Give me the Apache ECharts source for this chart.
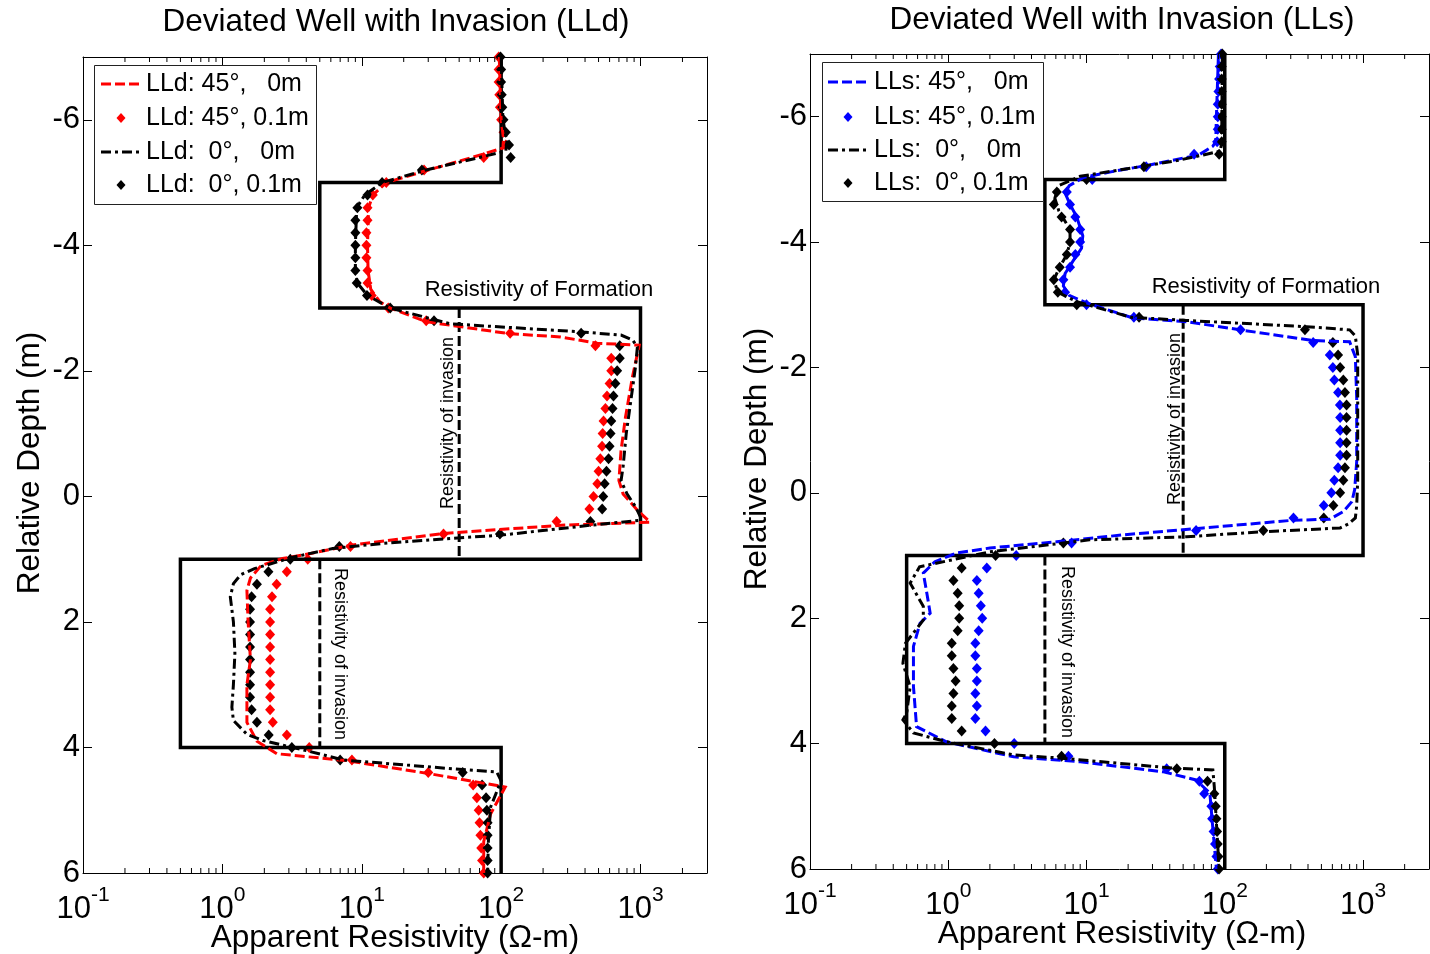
<!DOCTYPE html>
<html>
<head>
<meta charset="utf-8">
<title>Deviated Well with Invasion</title>
<script src="https://cdn.jsdelivr.net/npm/echarts@6.0.0/dist/echarts.min.js"></script>
<style>
  html, body { margin: 0; padding: 0; background: #ffffff; }
  #chart { width: 1430px; height: 954px; }
</style>
</head>
<body>
<div id="chart"></div>
<script>
// ---------------------------------------------------------------------------
// Laterolog responses (LLd / LLs) across a thin-bed sequence with invasion.
// Depth in m (negative = above bed centre), resistivity in ohm-m.
// ---------------------------------------------------------------------------

// Formation model: bed boundaries and true resistivity of each bed
const BED_TOP    = [-7, -5, -3, 1, 4];
const BED_BOTTOM = [-5, -3, 1, 4, 6];
const BED_RT     = [100, 5, 1000, 0.5, 100];

// Invaded zones: interval and resistivity of invasion
const INV_TOP    = [-3, 1];
const INV_BOTTOM = [1, 4];
const INV_RXO    = [50, 5];

// Depth stations of the 0.1 m invasion runs (diamond markers)
const DEPTH_GRID = [
  -7.0, -6.8, -6.6, -6.4, -6.2, -6.0, -5.8, -5.6, -5.4, -5.2, -5.0,
  -4.8, -4.6, -4.4, -4.2, -4.0, -3.8, -3.6, -3.4, -3.2, -3.0, -2.8,
  -2.6, -2.4, -2.2, -2.0, -1.8, -1.6, -1.4, -1.2, -1.0, -0.8, -0.6,
  -0.4, -0.2,  0.0,  0.2,  0.4,  0.6,  0.8,  1.0,  1.2,  1.4,  1.6,
   1.8,  2.0,  2.2,  2.4,  2.6,  2.8,  3.0,  3.2,  3.4,  3.6,  3.8,
   4.0,  4.2,  4.4,  4.6,  4.8,  5.0,  5.2,  5.4,  5.6,  5.8,  6.0
];

// LLd, 45 deg, 0.1 m invasion
const LLD_45_01 = [
  96, 96, 96, 97, 98, 100, 104, 108, 75, 28, 15,
  12, 11, 11, 10.8, 10.8, 10.8, 11, 11, 11.8, 15.5, 29,
  116, 475, 617, 617, 600, 575, 560, 543, 535, 530, 515,
  500, 490, 460, 430, 250, 38.6, 8.3, 4.1, 2.9, 2.45, 2.27,
  2.2, 2.2, 2.2, 2.2, 2.2, 2.2, 2.2, 2.2, 2.2, 2.3, 2.9,
  4.2, 8.5, 30, 63, 67, 69, 70, 71, 72, 73, 75
];
// LLd, 0 deg, 0.1 m invasion
const LLD_0_01 = [
  99, 100, 100, 101, 102, 104, 108, 114, 117, 27, 14,
  11, 9.3, 9.0, 9.0, 9.0, 9.0, 9.0, 9.2, 10.9, 16, 33,
  375, 710, 710, 680, 660, 640, 630, 617, 610, 600, 590,
  570, 553, 540, 531, 437, 98, 6.9, 3.07, 2.14, 1.77, 1.62,
  1.58, 1.58, 1.58, 1.58, 1.58, 1.58, 1.58, 1.58, 1.62, 1.77, 2.15,
  3.15, 7.0, 53, 73, 78, 79, 80, 80, 80, 80, 80
];
// LLs, 45 deg, 0.1 m invasion
const LLS_45_01 = [
  94, 92, 91, 90, 89, 89, 89, 88, 60, 27, 11,
  7.2, 7.6, 8.3, 9.0, 9.0, 8.3, 7.6, 6.8, 7.0, 10, 22,
  130, 436, 575, 605, 620, 660, 680, 683, 683, 683, 683,
  660, 620, 590, 520, 314, 62, 7.8, 3.1, 1.9, 1.61, 1.66,
  1.72, 1.76, 1.66, 1.57, 1.57, 1.61, 1.61, 1.57, 1.61, 1.57, 1.86,
  3.0, 7.4, 38, 65.5, 71, 80, 81, 83, 85, 87, 89
];
// LLs, 0 deg, 0.1 m invasion
const LLS_0_01 = [
  96, 95, 95, 95, 95, 95, 95, 95, 91, 26, 10,
  6.1, 5.8, 6.6, 7.6, 7.6, 7.2, 6.4, 5.8, 6.2, 8.5, 24,
  380, 605, 660, 683, 720, 740, 760, 760, 760, 760, 760,
  740, 720, 683, 610, 520, 190, 6.8, 2.2, 1.25, 1.09, 1.17,
  1.2, 1.2, 1.17, 1.06, 1.06, 1.09, 1.13, 1.09, 1.06, 1.06, 1.25,
  2.16, 6.6, 45, 75, 84, 86, 87, 88, 89, 90, 91
];

// Continuous logs without invasion: [depth m, apparent resistivity ohm-m]
const LLD_45_0 = [
  [-7.0, 97], [-6.0, 100], [-5.7, 104], [-5.55, 103], [-5.4, 62], [-5.2, 30],
  [-5.0, 15], [-4.8, 12], [-4.6, 11.2], [-4.0, 11], [-3.6, 11.1], [-3.3, 11.6],
  [-3.1, 13.5], [-3.0, 16], [-2.78, 29.4], [-2.59, 116], [-2.54, 266], [-2.44, 490],
  [-2.41, 980], [-1.9, 875], [-1.26, 780], [-0.73, 725], [-0.25, 700], [-0.04, 750],
  [0.22, 950], [0.41, 1170], [0.46, 270], [0.59, 38.6], [0.78, 8.3], [0.91, 4.3],
  [0.99, 2.7], [1.1, 1.9], [1.3, 1.59], [1.5, 1.5], [2.0, 1.53], [2.6, 1.59],
  [3.0, 1.5], [3.6, 1.5], [3.9, 1.77], [4.1, 2.46], [4.21, 7.8], [4.42, 31],
  [4.63, 107], [5.06, 84], [5.5, 75], [6.0, 75]
];
const LLD_0_0 = [
  [-7.0, 100], [-6.0, 103], [-5.65, 110], [-5.5, 108], [-5.4, 70], [-5.2, 29],
  [-5.0, 14], [-4.8, 10.5], [-4.6, 9.2], [-4.0, 9.0], [-3.6, 9.0], [-3.4, 9.3],
  [-3.2, 11], [-3.0, 16], [-2.75, 43], [-2.62, 375], [-2.57, 725], [-2.49, 880],
  [-2.38, 950], [-2.06, 920], [-1.53, 853], [-1.0, 790], [-0.47, 750], [-0.25, 725],
  [-0.04, 800], [0.17, 925], [0.33, 1000], [0.38, 1000], [0.46, 437], [0.62, 98],
  [0.67, 43], [0.75, 14], [0.83, 6.2], [0.97, 3.2], [1.15, 1.7], [1.25, 1.35],
  [1.39, 1.2], [1.6, 1.14], [2.0, 1.2], [2.5, 1.23], [3.0, 1.2], [3.36, 1.17],
  [3.57, 1.2], [3.79, 1.5], [3.89, 1.96], [4.05, 4.0], [4.2, 7.4], [4.34, 45],
  [4.39, 93], [4.53, 100], [4.95, 84], [5.5, 81], [6.0, 80]
];
const LLS_45_0 = [
  [-7.0, 90], [-6.0, 87], [-5.6, 86], [-5.53, 82], [-5.39, 65], [-5.34, 50],
  [-5.23, 28.6], [-5.12, 15], [-5.03, 9.5], [-4.9, 7.5], [-4.78, 7.0], [-4.6, 7.6],
  [-4.4, 8.5], [-4.1, 9.4], [-3.9, 9.2], [-3.7, 8.0], [-3.5, 7.0], [-3.3, 6.8],
  [-3.15, 7.5], [-3.03, 10], [-2.79, 21.6], [-2.73, 53], [-2.6, 129], [-2.43, 436],
  [-2.41, 800], [-2.17, 880], [-1.5, 900], [-0.5, 900], [-0.05, 870], [0.14, 830],
  [0.3, 720], [0.42, 575], [0.44, 300], [0.56, 70], [0.67, 18.5], [0.78, 6.1],
  [0.88, 2.0], [0.96, 1.15], [1.1, 0.8], [1.28, 0.66], [1.6, 0.7], [1.92, 0.74],
  [2.08, 0.625], [2.45, 0.56], [3.09, 0.56], [3.73, 0.59], [3.97, 0.97], [4.21, 2.97],
  [4.29, 9], [4.45, 36], [4.58, 62], [4.79, 78], [5.22, 81], [6.0, 87]
];
const LLS_0_0 = [
  [-7.0, 96], [-5.6, 95], [-5.45, 93], [-5.39, 70], [-5.3, 45], [-5.2, 24],
  [-5.05, 9], [-4.9, 6.3], [-4.7, 5.9], [-4.5, 6.3], [-4.2, 7.6], [-4.0, 7.6],
  [-3.8, 7.2], [-3.6, 6.4], [-3.4, 5.8], [-3.2, 6.2], [-3.05, 8.5], [-2.8, 21],
  [-2.75, 53], [-2.65, 390], [-2.6, 800], [-2.5, 880], [-2.2, 915], [-0.2, 915],
  [0.2, 900], [0.4, 880], [0.5, 780], [0.56, 683], [0.62, 190], [0.7, 53],
  [0.75, 10.5], [0.94, 2.0], [1.18, 0.62], [1.44, 0.53], [1.81, 0.66], [2.03, 0.66],
  [2.4, 0.49], [2.72, 0.47], [3.09, 0.53], [3.52, 0.5], [3.62, 0.47], [3.83, 0.56],
  [3.97, 0.97], [4.18, 2.97], [4.23, 6.4], [4.39, 42], [4.42, 82], [4.69, 84], [6.0, 91]
];

// Axis ranges and ticks
const RES_MIN = 0.1;
const RES_MAX = 3000;
const DEPTH_MIN = -7;
const DEPTH_MAX = 6;
const DEPTH_TICKS = [-6, -4, -2, 0, 2, 4, 6];

// Text
const TITLES = ['Deviated Well with Invasion (LLd)', 'Deviated Well with Invasion (LLs)'];
const X_NAME = 'Apparent Resistivity (\u03A9-m)';
const Y_NAME = 'Relative Depth (m)';
const LEGEND_TEXT = [
  ['LLd: 45\u00B0,   0m', 'LLd: 45\u00B0, 0.1m', 'LLd:  0\u00B0,   0m', 'LLd:  0\u00B0, 0.1m'],
  ['LLs: 45\u00B0,   0m', 'LLs: 45\u00B0, 0.1m', 'LLs:  0\u00B0,   0m', 'LLs:  0\u00B0, 0.1m']
];
const FORMATION_LABEL = 'Resistivity of Formation';
const INVASION_LABEL = 'Resistivity of invasion';

// ---------------------------------------------------------------------------
const FONT = "'Liberation Sans', Arial, Helvetica, sans-serif";
const RED = '#ff0000';
const BLUE = '#0000ff';
const BLACK = '#000000';
const DASH = [10, 4];
const DASH_DOT = [10, 4, 3, 4];

const GRIDS = [
  { left: 83, top: 57, width: 624, height: 816 },
  { left: 810, top: 54, width: 619, height: 815 }
];

function powLabel(v) {
  const e = Math.log10(v);
  const r = Math.round(e);
  if (Math.abs(e - r) > 1e-6) return '';
  return '{b|10}{s|' + r + '}';
}

function xAxes(gi) {
  const base = {
    type: 'log', logBase: 10, gridIndex: gi, min: RES_MIN, max: RES_MAX,
    splitLine: { show: false },
    axisLine: { show: true, onZero: false, lineStyle: { color: BLACK, width: 1 } },
    axisTick: { show: true, inside: true, length: 9, lineStyle: { color: BLACK, width: 1 } }
  };
  return [
    Object.assign({}, base, {
      position: 'bottom',
      axisLabel: {
        show: true, margin: 12, formatter: powLabel, hideOverlap: false,
        rich: {
          b: { fontSize: 31, fontFamily: FONT, color: BLACK, lineHeight: 40, verticalAlign: 'bottom' },
          s: { fontSize: 21, fontFamily: FONT, color: BLACK, lineHeight: 15, verticalAlign: 'top' }
        }
      }
    }),
    Object.assign({}, base, { position: 'top', axisLabel: { show: false } })
  ];
}

function yAxes(gi) {
  const base = {
    type: 'value', gridIndex: gi, min: DEPTH_MIN, max: DEPTH_MAX, inverse: true,
    splitLine: { show: false },
    axisLine: { show: true, onZero: false, lineStyle: { color: BLACK, width: 1 } },
    axisTick: { show: true, inside: true, length: 9, customValues: DEPTH_TICKS,
                lineStyle: { color: BLACK, width: 1 } }
  };
  return [
    Object.assign({}, base, {
      position: 'left',
      axisLabel: { show: true, customValues: DEPTH_TICKS, margin: 3, fontSize: 31,
                   fontFamily: FONT, color: BLACK }
    }),
    Object.assign({}, base, { position: 'right', axisLabel: { show: false } })
  ];
}

function stepPath(tops, bottoms, vals) {
  const out = [];
  tops.forEach(function (t, i) {
    out.push([vals[i], t]);
    out.push([vals[i], bottoms[i]]);
  });
  return out;
}

function lineSeries(name, pts, gi, color, dash, width) {
  return {
    type: 'line', name: name, xAxisIndex: gi * 2, yAxisIndex: gi * 2,
    data: pts.map(function (p) { return [p[1], p[0]]; }),
    symbol: 'none', showSymbol: false, silent: true, animation: false,
    lineStyle: { color: color, width: width, type: dash, cap: 'butt', join: 'miter', opacity: 1 }
  };
}

function modelSeries(name, data, gi, dash, width) {
  return {
    type: 'line', name: name, xAxisIndex: gi * 2, yAxisIndex: gi * 2, data: data,
    symbol: 'none', showSymbol: false, silent: true, animation: false,
    lineStyle: { color: BLACK, width: width, type: dash, cap: 'butt', join: 'miter', opacity: 1 }
  };
}

function markerSeries(name, values, gi, color) {
  return {
    type: 'scatter', name: name, xAxisIndex: gi * 2, yAxisIndex: gi * 2,
    data: DEPTH_GRID.map(function (d, i) { return [values[i], d]; }),
    symbol: 'diamond', symbolSize: [10, 11], silent: true, animation: false,
    itemStyle: { color: color, borderWidth: 0, opacity: 1 }
  };
}

function panelSeries(gi, tool, color, line45, mark45, line0, mark0) {
  const invasion = INV_TOP.map(function (t, i) {
    return modelSeries('Rxo ' + i, [[INV_RXO[i], t], [INV_RXO[i], INV_BOTTOM[i]]], gi, DASH, 3);
  });
  return [modelSeries('Rt', stepPath(BED_TOP, BED_BOTTOM, BED_RT), gi, 'solid', 3.5)]
    .concat(invasion)
    .concat([
      lineSeries(tool + ' 45 0m', line45, gi, color, DASH, 3),
      markerSeries(tool + ' 45 0.1m', mark45, gi, color),
      lineSeries(tool + ' 0 0m', line0, gi, BLACK, DASH_DOT, 3),
      markerSeries(tool + ' 0 0.1m', mark0, gi, BLACK)
    ]);
}

const chart = echarts.init(document.getElementById('chart'), null, { renderer: 'canvas' });

chart.setOption({
  animation: false,
  backgroundColor: '#ffffff',
  grid: GRIDS.map(function (g) {
    return Object.assign({ containLabel: false, outerBoundsMode: 'none', show: false }, g);
  }),
  xAxis: xAxes(0).concat(xAxes(1)),
  yAxis: yAxes(0).concat(yAxes(1)),
  series: panelSeries(0, 'LLd', RED, LLD_45_0, LLD_45_01, LLD_0_0, LLD_0_01)
    .concat(panelSeries(1, 'LLs', BLUE, LLS_45_0, LLS_45_01, LLS_0_0, LLS_0_01))
});

// ---------------------------------------------------------------------------
// Decorations: minor log ticks, titles, axis names, annotations and legends
// ---------------------------------------------------------------------------
function text(str, x, y, size, rotation) {
  return {
    type: 'text', x: x, y: y, rotation: rotation || 0, silent: true, z: 100,
    style: { text: str, fontSize: size, fontFamily: FONT, fill: BLACK,
             align: 'center', verticalAlign: 'middle' }
  };
}

const graphics = [];

GRIDS.forEach(function (g, gi) {
  const top = chart.convertToPixel({ yAxisIndex: gi * 2 }, DEPTH_MIN);
  const bottom = chart.convertToPixel({ yAxisIndex: gi * 2 }, DEPTH_MAX);
  for (let k = -1; k <= 3; k++) {
    for (let m = 2; m <= 9; m++) {
      const v = m * Math.pow(10, k);
      if (v >= RES_MAX) continue;
      const px = chart.convertToPixel({ xAxisIndex: gi * 2 }, v);
      graphics.push({ type: 'line', silent: true, z: 50,
        shape: { x1: px, y1: bottom, x2: px, y2: bottom - 5 },
        style: { stroke: BLACK, lineWidth: 1 } });
      graphics.push({ type: 'line', silent: true, z: 50,
        shape: { x1: px, y1: top, x2: px, y2: top + 5 },
        style: { stroke: BLACK, lineWidth: 1 } });
    }
  }
});

// titles and axis names
graphics.push(text(TITLES[0], 396, 22, 31.5));
graphics.push(text(TITLES[1], 1122, 20, 31.5));
graphics.push(text(X_NAME, 395, 938, 31.5));
graphics.push(text(X_NAME, 1122, 934, 31.5));
graphics.push(text(Y_NAME, 30, 463, 31.5, Math.PI / 2));
graphics.push(text(Y_NAME, 757, 459, 31.5, Math.PI / 2));

// annotations
graphics.push(text(FORMATION_LABEL, 539, 290, 22));
graphics.push(text(FORMATION_LABEL, 1266, 287, 22));
graphics.push(text(INVASION_LABEL, 448, 423, 18, Math.PI / 2));
graphics.push(text(INVASION_LABEL, 340, 654, 18, -Math.PI / 2));
graphics.push(text(INVASION_LABEL, 1175, 419, 18, Math.PI / 2));
graphics.push(text(INVASION_LABEL, 1067, 652, 18, -Math.PI / 2));

// legends
const LEGEND_BOX = [
  { x: 94, y: 65, w: 222, h: 139, rows: [84, 118, 152, 185], lx1: 101, lx2: 141, mx: 121, tx: 146, color: RED },
  { x: 822, y: 62, w: 221, h: 139, rows: [82, 117, 150, 183], lx1: 828, lx2: 868, mx: 848, tx: 874, color: BLUE }
];
LEGEND_BOX.forEach(function (L, gi) {
  graphics.push({ type: 'rect', silent: true, z: 90,
    shape: { x: L.x + 0.5, y: L.y + 0.5, width: L.w, height: L.h },
    style: { fill: '#ffffff', stroke: '#222222', lineWidth: 1 } });
  const kinds = [
    { kind: 'line', color: L.color, dash: DASH },
    { kind: 'mark', color: L.color },
    { kind: 'line', color: BLACK, dash: DASH_DOT },
    { kind: 'mark', color: BLACK }
  ];
  kinds.forEach(function (k, i) {
    const y = L.rows[i];
    if (k.kind === 'line') {
      graphics.push({ type: 'line', silent: true, z: 95,
        shape: { x1: L.lx1, y1: y, x2: L.lx2, y2: y },
        style: { stroke: k.color, lineWidth: 3, lineDash: k.dash, lineCap: 'butt' } });
    } else {
      graphics.push({ type: 'polygon', silent: true, z: 95,
        shape: { points: [[L.mx, y - 5], [L.mx + 4.5, y], [L.mx, y + 5], [L.mx - 4.5, y]] },
        style: { fill: k.color } });
    }
    graphics.push({ type: 'text', silent: true, z: 95, x: L.tx, y: y,
      style: { text: LEGEND_TEXT[gi][i], fontSize: 25, fontFamily: FONT, fill: BLACK,
               align: 'left', verticalAlign: 'middle' } });
  });
});

chart.setOption({ graphic: graphics });
</script>
</body>
</html>
